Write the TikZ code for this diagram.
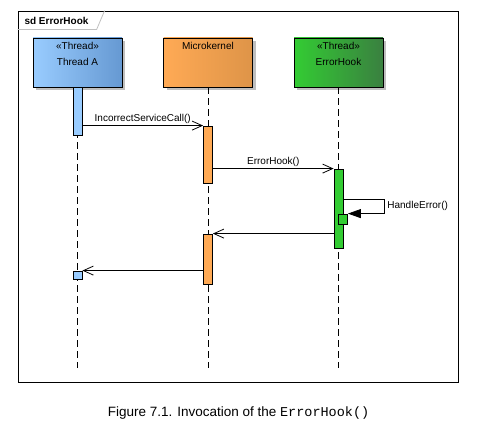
\documentclass[tikz,border=0pt]{standalone}
\usepackage{fontspec}
\setmainfont{Liberation Sans}
\setmonofont{Liberation Mono}
\usetikzlibrary{arrows.meta,shadows}

\definecolor{threadblue}{RGB}{153,204,255}
\definecolor{threadbluedark}{RGB}{102,153,210}
\definecolor{kernelorange}{RGB}{255,170,85}
\definecolor{kernelorangedark}{RGB}{222,148,72}
\definecolor{hookgreen}{RGB}{51,204,51}
\definecolor{hookgreendark}{RGB}{58,128,64}
\definecolor{tabgray}{RGB}{192,192,192}

\begin{document}
\begin{tikzpicture}[x=1pt, y=-1pt, node distance=130.5pt, font=\fontsize{10}{12}\selectfont]
    % Define styles
    \tikzstyle{head} = [rectangle, minimum width=89pt, minimum height=49pt, inner sep=0pt, draw=black, line width=0.8pt, drop shadow={shadow xshift=3pt, shadow yshift=-3pt, fill=black!25, opacity=1}]
    \tikzstyle{headlabel} = [anchor=north, align=center, yshift=-1.5pt, font=\fontsize{10}{16}\selectfont]
    \tikzstyle{bar} = [rectangle, minimum width=9pt, inner sep=0pt, draw=black, line width=0.8pt]
    \tikzstyle{lifeline} = [line width=0.8pt, dash pattern=on 7pt off 4pt]
    \tikzstyle{msg} = [line width=0.8pt, -{Straight Barb[length=10pt,width=9pt]}]
    \tikzstyle{selfcall} = [line width=0.8pt, -{Triangle[length=13pt,width=9pt]}]

    \useasboundingbox (0,0) rectangle (483,428);

    % Frame and its tab
    \node [draw=black, line width=0.8pt, minimum width=440pt, minimum height=371pt, inner sep=0pt] (frame) at (238,196.5) {};
    \draw [tabgray, line width=0.8pt] (frame.north west) ++(0,19) -- ++(79,0) -- ++(8,-19);
    \node [anchor=west, font=\fontsize{10}{12}\bfseries] (title) at (21,20.5) {sd ErrorHook};

    % Lifeline heads
    \node [head, left color=threadblue, middle color=threadblue, right color=threadbluedark, label={[headlabel]north:{«Thread»\\Thread A}}] (threadA) at (77.5,62.5) {};
    \node [head, left color=kernelorange, middle color=kernelorange, right color=kernelorangedark, label={[headlabel]north:{Microkernel}}, right of=threadA] (kernel) {};
    \node [head, left color=hookgreen, middle color=hookgreen, right color=hookgreendark, label={[headlabel]north:{«Thread»\\ErrorHook}}, right of=kernel] (hook) {};

    % Lifelines
    \coordinate (endA) at (77.5,368);
    \coordinate (endK) at (208,368);
    \coordinate (endH) at (338.5,368);
    \draw [lifeline] (threadA) -- (endA);
    \draw [lifeline] (kernel) -- (endK);
    \draw [lifeline] (hook) -- (endH);

    % Activations
    \node [bar, fill=threadblue, minimum height=48pt] (callA) at (77.5,111) {};
    \node [bar, fill=kernelorange, minimum height=57pt] (runK) at (208,154.5) {};
    \node [bar, fill=hookgreen, minimum height=79pt] (runH) at (338.5,208.5) {};
    \node [bar, fill=hookgreen, minimum height=10pt] (handleH) at (343,219) {};
    \node [bar, fill=kernelorange, minimum height=50pt] (backK) at (208,259) {};
    \node [bar, fill=threadblue, minimum height=8pt] (backA) at (77.5,275) {};

    % Messages
    \draw [msg] (callA.east |- runK.north) -- node [above, inner sep=2pt] {IncorrectServiceCall()} (runK.north west);
    \draw [msg] (runK.east |- runH.north) -- node [above, inner sep=2pt] {ErrorHook()} (runH.north west);
    \coordinate (loop) at (384,199);
    \draw [selfcall] (runH.east |- loop) -- (loop) |- node [pos=0.25, right, inner sep=3pt] {HandleError()} (handleH.north east);
    \draw [msg] (runH.west |- backK.north) -- (backK.north east);
    \draw [msg] (backK.west |- backA.north) -- (backA.north east);

    % Caption
    \node (caption) at (238.5,413) {\fontsize{13.5}{16}\selectfont Figure 7.1. Invocation of the \texttt{ErrorHook()}};
\end{tikzpicture}
\end{document}
